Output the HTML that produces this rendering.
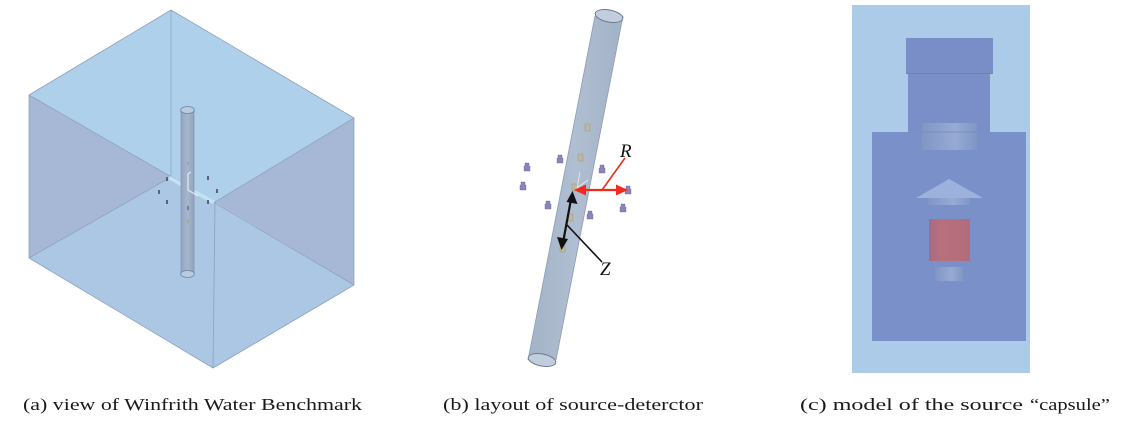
<!DOCTYPE html>
<html><head><meta charset="utf-8">
<style>
html,body{margin:0;padding:0;background:#fff;}
svg{display:block;}
</style></head>
<body>
<svg width="1121" height="423" viewBox="0 0 1121 423" xmlns="http://www.w3.org/2000/svg">
<defs>
  <linearGradient id="tubeG" x1="0" y1="0" x2="1" y2="0">
    <stop offset="0" stop-color="#a3b3c8"/>
    <stop offset="0.5" stop-color="#afbed0"/>
    <stop offset="1" stop-color="#a2b2c7"/>
  </linearGradient>
  <linearGradient id="cylA" x1="0" y1="0" x2="1" y2="0">
    <stop offset="0" stop-color="#93a5bf"/>
    <stop offset="0.5" stop-color="#a5b6cd"/>
    <stop offset="1" stop-color="#92a4be"/>
  </linearGradient>
  <linearGradient id="diskG" x1="0" y1="0" x2="1" y2="0">
    <stop offset="0" stop-color="#8196c6"/>
    <stop offset="0.6" stop-color="#96aad4"/>
    <stop offset="1" stop-color="#8096c5"/>
  </linearGradient>
  <linearGradient id="redG" x1="0" y1="0" x2="1" y2="0">
    <stop offset="0" stop-color="#a66a86"/>
    <stop offset="0.3" stop-color="#b9707c"/>
    <stop offset="1" stop-color="#b16c7c"/>
  </linearGradient>
</defs>

<!-- ===== Panel (a) ===== -->
<polygon points="171,10 354,118 215,202 171,177 29,95" fill="#afd0eb"/>
<polygon points="29,258 171,177 215,202 354,285 213,368" fill="#abc7e3"/>
<polygon points="29,95 171,177 29,258" fill="#a6b8d5"/>
<polygon points="29,95 215,202 171,177" fill="#a9c1dd"/>
<polygon points="354,118 215,202 354,285" fill="#a6b8d5"/>
<g stroke="#8ea2bf" stroke-width="0.8" fill="none">
  <polygon points="171,10 354,118 354,285 213,368 29,258 29,95"/>
  <line x1="171" y1="10" x2="171" y2="177"/>
  <line x1="29" y1="258" x2="171" y2="177"/>
  <line x1="354" y1="285" x2="171" y2="177"/>
  <line x1="29" y1="95" x2="215" y2="202"/>
  <line x1="354" y1="118" x2="215" y2="202"/>
  <line x1="215" y1="202" x2="213" y2="368"/>
</g>
<polygon points="170,176 215,201 213,204 168,179" fill="#c4e2f3"/>
<!-- cylinder a -->
<rect x="181" y="110" width="13" height="164" fill="url(#cylA)"/>
<line x1="181" y1="110" x2="181" y2="274" stroke="#7f92ad" stroke-width="0.7"/>
<line x1="194" y1="110" x2="194" y2="274" stroke="#7f92ad" stroke-width="0.7"/>
<ellipse cx="187.5" cy="274" rx="6.8" ry="3.5" fill="#b9cbe0" stroke="#6f8299" stroke-width="0.8"/>
<ellipse cx="187.5" cy="110" rx="6.8" ry="3.5" fill="#b9cbe0" stroke="#6f8299" stroke-width="0.8"/>
<polyline points="191,172 188,174 188,190 198,196" fill="none" stroke="#dfe9f3" stroke-width="1.2"/>
<g fill="#5a6275">
  <rect x="166" y="177" width="2" height="4"/>
  <rect x="158" y="190" width="2" height="4"/>
  <rect x="166" y="200" width="2" height="4"/>
  <rect x="207" y="176" width="2" height="4"/>
  <rect x="216" y="189" width="2" height="4"/>
  <rect x="207" y="200" width="2" height="4"/>
  <rect x="187" y="206" width="2" height="4" fill="#7a8499"/>
  <rect x="187" y="162" width="2" height="3" fill="#a0a898"/>
  <rect x="187" y="220" width="2" height="3" fill="#a0a898"/>
</g>

<!-- ===== Panel (b) ===== -->
<polygon points="595,16 623,16 556,360 528,360" fill="url(#tubeG)"/>
<line x1="595" y1="16" x2="528" y2="360" stroke="#8d9db3" stroke-width="0.8"/>
<line x1="623" y1="16" x2="556" y2="360" stroke="#8d9db3" stroke-width="0.8"/>
<ellipse cx="609" cy="16" rx="14" ry="6" transform="rotate(11 609 16)" fill="#c2cedd" stroke="#6d7b90" stroke-width="1"/>
<ellipse cx="542" cy="360" rx="14" ry="6" transform="rotate(11 542 360)" fill="#c2cedd" stroke="#6d7b90" stroke-width="1"/>
<g fill="#bdb9a0" stroke="#9a9782" stroke-width="0.5">
  <rect x="585" y="124" width="5" height="7"/>
  <rect x="578" y="154" width="5" height="7"/>
  <rect x="572" y="184" width="5" height="7"/>
  <rect x="568" y="214" width="5" height="7"/>
  <rect x="560" y="245" width="5" height="7"/>
</g>
<g fill="#8a84b8" stroke="#6e68a0" stroke-width="0.4">
  <path d="M525,163 h4 v3 h1 v5 h-6 v-5 h1 z"/>
  <path d="M521,182 h4 v3 h1 v5 h-6 v-5 h1 z"/>
  <path d="M558,155 h4 v3 h1 v5 h-6 v-5 h1 z"/>
  <path d="M600,165 h4 v3 h1 v5 h-6 v-5 h1 z"/>
  <path d="M546,201 h4 v3 h1 v5 h-6 v-5 h1 z"/>
  <path d="M626,186 h4 v3 h1 v5 h-6 v-5 h1 z"/>
  <path d="M588,211 h4 v3 h1 v5 h-6 v-5 h1 z"/>
  <path d="M621,204 h4 v3 h1 v5 h-6 v-5 h1 z"/>
</g>
<g stroke="#e8edf4" stroke-width="0.8" fill="none">
  <line x1="577" y1="188" x2="580" y2="172"/>
  <line x1="577" y1="188" x2="588" y2="180"/>
</g>
<line x1="582" y1="190" x2="619" y2="190" stroke="#f02a1e" stroke-width="2.2"/>
<polygon points="574,190 586,184.5 586,195.5" fill="#f02a1e"/>
<polygon points="628,190 616,184.5 616,195.5" fill="#f02a1e"/>
<line x1="602" y1="190" x2="625" y2="158" stroke="#f02a1e" stroke-width="1.6"/>
<text x="620" y="157" font-family="Liberation Serif, serif" font-style="italic" font-size="19" fill="#111">R</text>
<line x1="570.5" y1="202" x2="563.5" y2="240" stroke="#111" stroke-width="2.2"/>
<polygon points="572.5,191 577.5,204 566.5,202" fill="#111"/>
<polygon points="561.5,250 557,237 568,239" fill="#111"/>
<line x1="567" y1="225" x2="602" y2="262" stroke="#111" stroke-width="1.6"/>
<text x="600" y="275" font-family="Liberation Serif, serif" font-style="italic" font-size="19" fill="#111">Z</text>

<!-- ===== Panel (c) ===== -->
<rect x="852" y="5" width="178" height="368" fill="#abcbe9"/>
<rect x="906" y="38" width="87" height="36" fill="#798ec6"/>
<line x1="906" y1="73.5" x2="993" y2="73.5" stroke="#6e82b8" stroke-width="1"/>
<rect x="908" y="74" width="82" height="60" fill="#7a8fc7"/>
<rect x="872" y="132" width="154" height="209" fill="#7a90c8"/>
<rect x="922" y="123" width="55" height="27" fill="url(#diskG)"/>
<line x1="922" y1="132" x2="977" y2="132" stroke="#7488bd" stroke-width="0.8"/>
<polygon points="949,179 983,198 916,198" fill="#9cb2dd"/>
<rect x="928" y="198" width="42" height="7" fill="url(#diskG)"/>
<rect x="929" y="219" width="41" height="42" fill="url(#redG)"/>
<rect x="935" y="267" width="28" height="14" fill="url(#diskG)"/>

<!-- ===== Captions ===== -->
<g font-family="Liberation Serif, serif" font-size="17" fill="#1a1a1a">
  <g transform="matrix(1.275 0 0 1 23 410)">
    <text x="0" y="0" textLength="265.9" lengthAdjust="spacingAndGlyphs">(a) view of Winfrith Water Benchmark</text>
  </g>
  <g transform="matrix(1.275 0 0 1 443 410)">
    <text x="0" y="0" textLength="203.9" lengthAdjust="spacingAndGlyphs">(b) layout of source-deterctor</text>
  </g>
  <g transform="matrix(1.275 0 0 1 800 410)">
    <text x="0" y="0" textLength="174.9" lengthAdjust="spacingAndGlyphs">(c) model of the source</text>
  </g>
  <g transform="matrix(1.275 0 0 1 1030 410)">
    <text x="0" y="0" textLength="62.7" lengthAdjust="spacingAndGlyphs">“capsule”</text>
  </g>
</g>
</svg>
</body></html>
